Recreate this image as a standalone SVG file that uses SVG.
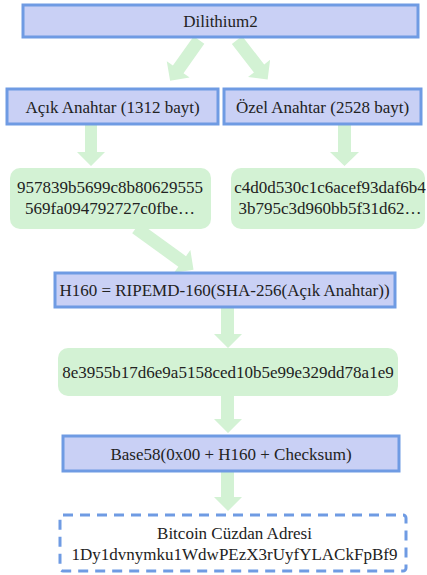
<svg xmlns="http://www.w3.org/2000/svg" width="427" height="575" viewBox="0 0 427 575">
  <style>
    .proc { fill: #c9d0f5; stroke: #6f9be3; stroke-width: 3; }
    .data { fill: #d3f2d4; stroke: none; }
    .out { fill: none; stroke: #6f9be3; stroke-width: 3; stroke-dasharray: 10 7; }
    .arrow { fill: #d3f2d4; stroke: none; }
    text { font-family: "Liberation Serif", "Times New Roman", serif; font-size: 17px; fill: #222; text-anchor: middle; }
  </style>
  <rect width="427" height="575" fill="#ffffff"/>

  <!-- connectors: block arrows, drawn pointing along +y then rotated -->
  <g id="connectors">
    <path class="arrow" transform="translate(199,40) rotate(35.3)" d="M-6.5,0 L6.5,0 L6.5,36 L14,36 L0,50 L-14,36 L-6.5,36 Z"/>
    <path class="arrow" transform="translate(237,40) rotate(-37.8)" d="M-6.5,0 L6.5,0 L6.5,36 L14,36 L0,50 L-14,36 L-6.5,36 Z"/>
    <path class="arrow" d="M85,124 L97,124 L97,152 L105,152 L91,166 L77,152 L85,152 Z"/>
    <path class="arrow" d="M338,124 L351,124 L351,152 L359,152 L344.5,166 L330,152 L338,152 Z"/>
    <path class="arrow" transform="translate(136,228) rotate(-54.1)" d="M-6.5,0 L6.5,0 L6.5,57 L14,57 L0,71 L-14,57 L-6.5,57 Z"/>
    <path class="arrow" d="M221,307 L234,307 L234,334 L242,334 L228,348 L214,334 L221,334 Z"/>
    <path class="arrow" d="M221,396 L234,396 L234,419 L242,419 L228,433 L214,419 L221,419 Z"/>
    <path class="arrow" d="M221,471 L234,471 L234,497 L242,497 L228,511 L214,497 L221,497 Z"/>
  </g>

  <g id="dilithium2">
    <rect class="proc" x="23" y="5" width="395" height="32"/>
    <text x="220.5" y="27">Dilithium2</text>
  </g>

  <g id="public-key">
    <rect class="proc" x="7" y="89" width="211" height="35"/>
    <text x="112.5" y="112.5">Açık Anahtar (1312 bayt)</text>
  </g>

  <g id="private-key">
    <rect class="proc" x="224" y="89" width="197" height="35"/>
    <text x="322.5" y="112.5">Özel Anahtar (2528 bayt)</text>
  </g>

  <g id="public-key-hex">
    <rect class="data" x="10" y="168" width="201" height="61" rx="10"/>
    <text x="110" y="193">957839b5699c8b80629555</text>
    <text x="110" y="214">569fa094792727c0fbe…</text>
  </g>

  <g id="private-key-hex">
    <rect class="data" x="231" y="168" width="194" height="61" rx="10"/>
    <text x="330" y="193">c4d0d530c1c6acef93daf6b4</text>
    <text x="330" y="214">3b795c3d960bb5f31d62…</text>
  </g>

  <g id="hash160">
    <rect class="proc" x="55" y="273" width="340" height="34"/>
    <text x="224.5" y="296">H160 = RIPEMD-160(SHA-256(Açık Anahtar))</text>
  </g>

  <g id="hash160-hex">
    <rect class="data" x="58" y="348" width="340" height="48" rx="10"/>
    <text x="228" y="378">8e3955b17d6e9a5158ced10b5e99e329dd78a1e9</text>
  </g>

  <g id="base58">
    <rect class="proc" x="63" y="436" width="336" height="35"/>
    <text x="231" y="460">Base58(0x00 + H160 + Checksum)</text>
  </g>

  <g id="address">
    <rect class="out" x="60" y="515" width="346" height="56" rx="3"/>
    <text x="234.5" y="539">Bitcoin Cüzdan Adresi</text>
    <text x="234.5" y="560">1Dy1dvnymku1WdwPEzX3rUyfYLACkFpBf9</text>
  </g>
</svg>
